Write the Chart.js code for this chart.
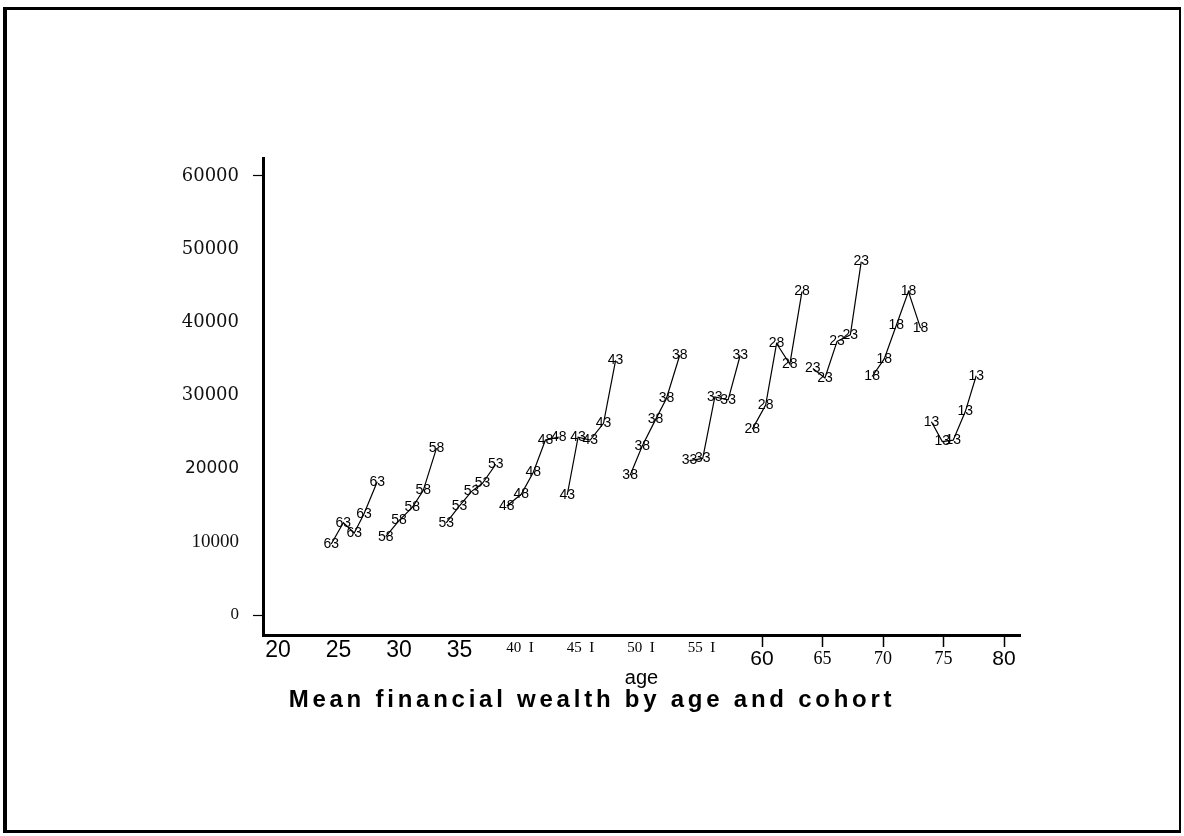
<!DOCTYPE html>
<html><head><meta charset="utf-8">
<script src="https://cdn.jsdelivr.net/npm/chart.js@4/dist/chart.umd.min.js"></script>
<style>
html,body{margin:0;padding:0;background:#fff;width:1184px;height:836px;overflow:hidden}
#frame{position:absolute;left:3px;top:7px;width:1178px;height:826px;box-sizing:border-box;border-top:3px solid #000;border-left:4px solid #000;border-bottom:3px solid #000;border-right:2px solid #000}
#wrap{position:absolute;left:0;top:0;width:1184px;height:836px}
</style></head><body>
<div id="frame"></div>
<div id="wrap"><canvas id="c" width="1184" height="836"></canvas></div>
<script>
// ---- data ----
const cohorts = ['63','58','53','48','43','38','33','28','23','18','13'];
const age63 = [24.4, 25.4, 26.3, 27.1, 28.2];
const wealth63 = [9700, 12600, 11200, 13800, 18200];
const age58 = [28.9, 30.0, 31.1, 32.0, 33.1];
const wealth58 = [10700, 12900, 14700, 17000, 22800];
const age53 = [33.9, 35.0, 36.0, 36.9, 38.0];
const wealth53 = [12600, 14900, 16900, 18000, 20600];
const age48 = [38.9, 40.1, 41.1, 42.1, 43.2];
const wealth48 = [14900, 16500, 19500, 23900, 24300];
const age43 = [43.9, 44.8, 45.8, 46.9, 47.9];
const wealth43 = [16400, 24300, 23900, 26200, 34800];
const age38 = [49.1, 50.1, 51.2, 52.1, 53.2];
const wealth38 = [19100, 23100, 26700, 29600, 35500];
const age33 = [54.0, 55.1, 56.1, 57.2, 58.2];
const wealth33 = [21100, 21400, 29800, 29400, 35500];
const age28 = [59.2, 60.3, 61.2, 62.3, 63.3];
const wealth28 = [25400, 28700, 37100, 34300, 44200];
const age23 = [64.2, 65.2, 66.2, 67.3, 68.2];
const wealth23 = [33700, 32400, 37400, 38300, 48300];
const age18 = [69.1, 70.1, 71.1, 72.1, 73.1];
const wealth18 = [32600, 35000, 39600, 44200, 39200];
const age13 = [74.0, 74.9, 75.8, 76.8, 77.7];
const wealth13 = [26400, 23700, 23900, 27800, 32700];

const xTicks = [20, 25, 30, 35, 40, 45, 50, 55, 60, 65, 70, 75, 80];
const xTickLabels = ['20', '25', '30', '35', '40  I', '45  I', '50  I', '55  I', '60', '65', '70', '75', '80'];
const yTicks = [0, 10000, 20000, 30000, 40000, 50000, 60000];
const yTickLabels = ['0', '10000', '20000', '30000', '40000', '50000', '60000'];
const chartTitle = 'Mean financial wealth by age and cohort';
const xAxisTitle = 'age';

const seriesByCohort = {
  '63': [age63, wealth63], '58': [age58, wealth58], '53': [age53, wealth53],
  '48': [age48, wealth48], '43': [age43, wealth43], '38': [age38, wealth38],
  '33': [age33, wealth33], '28': [age28, wealth28], '23': [age23, wealth23],
  '18': [age18, wealth18], '13': [age13, wealth13]
};

// ---- styling ----
const NARROW = '"Liberation Sans Narrow", "Liberation Sans", Arial, sans-serif';
const SERIF = '"Liberation Serif", "Times New Roman", serif';
const TRANSPARENT = 'rgba(0,0,0,0)';

const datasets = cohorts.map(c => {
  const [ages, vals] = seriesByCohort[c];
  return {
    label: c,
    data: ages.map((a, i) => ({ x: a, y: vals[i] })),
    borderColor: '#000',
    borderWidth: 1.2,
    pointRadius: 0,
    tension: 0,
    fill: false
  };
});

const cohortLabels = {
  id: 'cohortLabels',
  afterDatasetsDraw(chart) {
    const ctx = chart.ctx;
    ctx.save();
    ctx.font = '14px ' + NARROW;
    ctx.fillStyle = '#000';
    ctx.textAlign = 'center';
    ctx.textBaseline = 'middle';
    chart.data.datasets.forEach((ds, i) => {
      chart.getDatasetMeta(i).data.forEach(pt => ctx.fillText(ds.label, pt.x, pt.y));
    });
    ctx.restore();
  }
};

const TITLE_FONT = { family: NARROW, size: 24, weight: 'bold', lineHeight: 1 };
const spacedTitle = {
  id: 'spacedTitle',
  afterLayout(chart) {
    const tb = chart.titleBlock;
    if (!tb || tb._spaced) return;
    const orig = tb.draw.bind(tb);
    tb.draw = function () {
      const ctx = chart.ctx;
      ctx.save();
      ctx.font = 'bold 24px ' + NARROW;
      const w = ctx.measureText(chartTitle).width;
      const sp = Math.max(0, (603 - w) / (chartTitle.length - 1));
      ctx.letterSpacing = sp.toFixed(2) + 'px';
      orig();
      ctx.restore();
    };
    tb._spaced = true;
  }
};

new Chart(document.getElementById('c'), {
  type: 'line',
  data: { datasets },
  plugins: [cohortLabels, spacedTitle],
  options: {
    responsive: false,
    animation: false,
    layout: { padding: { left: 0, right: 0, top: 158, bottom: 124 } },
    plugins: {
      legend: { display: false },
      tooltip: { enabled: false },
      title: {
        display: true,
        text: chartTitle,
        position: 'bottom',
        color: '#000',
        font: TITLE_FONT,
        padding: { top: 0, bottom: 0 }
      }
    },
    scales: {
      x: {
        type: 'linear',
        min: 18.76,
        max: 81.32,
        afterBuildTicks(s) { s.ticks = xTicks.map(v => ({ value: v })); },
        afterFit(s) { s.height = 53; },
        border: { display: true, color: '#000', width: 3 },
        grid: {
          display: true, drawOnChartArea: false, drawTicks: true, tickLength: 12, tickWidth: 1.5,
          tickColor: c => (c.tick && c.tick.value >= 60) ? '#000' : TRANSPARENT
        },
        ticks: {
          autoSkip: false, maxRotation: 0, minRotation: 0, padding: 0, color: '#000',
          callback: v => xTickLabels[xTicks.indexOf(v)],
          font: c => {
            const v = c.tick ? c.tick.value : 20;
            if (v <= 35) return { family: NARROW, size: 23, lineHeight: '8px' };
            if (v <= 55) return { family: SERIF, size: 15, lineHeight: '2px' };
            if (v === 60 || v === 80) return { family: NARROW, size: 21, lineHeight: '24px' };
            return { family: SERIF, size: 18, lineHeight: '24px' };
          }
        },
        title: {
          display: true, text: xAxisTitle, color: '#000',
          font: { family: '"Liberation Sans", Arial, sans-serif', size: 20, lineHeight: 1 },
          padding: { top: 0, bottom: 0 }
        }
      },
      y: {
        type: 'linear',
        min: -2733,
        max: 62457,
        afterBuildTicks(s) { s.ticks = yTicks.map(v => ({ value: v })); },
        afterFit(s) { s.width = 263; },
        border: { display: true, color: '#000', width: 3 },
        grid: {
          display: true, drawOnChartArea: false, drawTicks: true, tickLength: 10, tickWidth: 1.2,
          tickColor: c => (c.tick && (c.tick.value === 0 || c.tick.value === 60000)) ? '#000' : TRANSPARENT
        },
        ticks: {
          padding: 14, color: '#111',
          callback: v => yTickLabels[yTicks.indexOf(v)],
          font: c => {
            const v = c.tick ? c.tick.value : 0;
            if (v === 0) return { family: SERIF, size: 17 };
            if (v === 10000) return { family: SERIF, size: 19 };
            if (v === 20000) return { family: '"DejaVu Sans", sans-serif', size: 17 };
            return { family: '"DejaVu Serif", serif', size: 18 };
          }
        }
      },
      yPad: {
        type: 'linear',
        position: 'right',
        display: true,
        afterFit(s) { s.width = 164; },
        border: { display: false },
        grid: { display: false },
        ticks: { display: false }
      }
    }
  }
});
</script>
</body></html>
